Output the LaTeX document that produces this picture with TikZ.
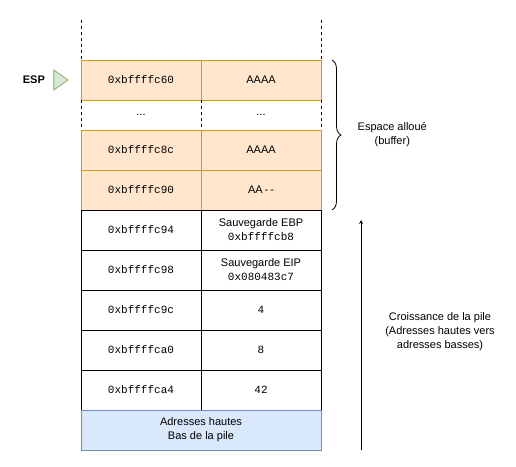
\documentclass[tikz,border=0pt]{standalone}
\usepackage{fontspec}
\setmainfont{Liberation Sans}
\setmonofont{Liberation Mono}
\usepackage{tikz}
\usetikzlibrary{shapes.geometric}
\usetikzlibrary{arrows, positioning, decorations.pathreplacing}

\definecolor{buffill}{HTML}{FFE6CC}
\definecolor{bufline}{HTML}{D79B00}
\definecolor{basfill}{HTML}{DAE8FC}
\definecolor{basline}{HTML}{6C8EBF}
\definecolor{espfill}{HTML}{D5E8D4}
\definecolor{espline}{HTML}{82B366}

\tikzset{
    cell/.style = {rectangle, draw, line width=0.8pt, minimum width=120pt, minimum height=40pt,
                   inner sep=0pt, outer sep=0pt, align=center, font=\fontsize{11}{14}\selectfont},
    buf/.style  = {cell, fill=buffill, draw=bufline},
    gap/.style  = {cell, draw=none, minimum height=30pt},
    sep/.style  = {dashed, line width=0.8pt}
}

\begin{document}
\begin{tikzpicture}[x=1pt, y=-1pt, >=stealth, node distance=0pt]
    \useasboundingbox (0,0) rectangle (516,466);
    % pile
    \node[buf]					(a0) at (141,80)			{\ttfamily 0xbffffc60};
    \node[buf]					(b0) [right=of a0]		{AAAA};
    \node[gap]					(a1) [below=of a0]		{...};
    \node[gap]					(b1) [right=of a1]		{...};
    \node[buf]					(a2) [below=of a1]		{\ttfamily 0xbffffc8c};
    \node[buf]					(b2) [right=of a2]		{AAAA};
    \node[buf]					(a3) [below=of a2]		{\ttfamily 0xbffffc90};
    \node[buf]					(b3) [right=of a3]		{AA\kern2pt-\kern2pt-};
    \node[cell]					(a4) [below=of a3]		{\ttfamily 0xbffffc94};
    \node[cell]					(b4) [right=of a4]		{Sauvegarde EBP\\\ttfamily 0xbffffcb8};
    \node[cell]					(a5) [below=of a4]		{\ttfamily 0xbffffc98};
    \node[cell]					(b5) [right=of a5]		{Sauvegarde EIP\\\ttfamily 0x080483c7};
    \node[cell]					(a6) [below=of a5]		{\ttfamily 0xbffffc9c};
    \node[cell]					(b6) [right=of a6]		{\ttfamily 4};
    \node[cell]					(a7) [below=of a6]		{\ttfamily 0xbffffca0};
    \node[cell]					(b7) [right=of a7]		{\ttfamily 8};
    \node[cell]					(a8) [below=of a7]		{\ttfamily 0xbffffca4};
    \node[cell]					(b8) [right=of a8]		{\ttfamily 42};
    \node[cell, minimum width=240pt, fill=basfill, draw=basline]
    							(bas) [below=of a8.south west, anchor=north west]	{Adresses hautes\\Bas de la pile};
    % pointillés
    \coordinate					(t0) at (81,20);
    \coordinate					(t1) at (321,20);
    \draw[sep]	(t0)	--	(a0.north west);
    \draw[sep]	(t1)	--	(b0.north east);
    \draw[sep]	(a1.north west)	--	(a1.south west);
    \draw[sep]	(a1.north east)	--	(a1.south east);
    \draw[sep]	(b1.north east)	--	(b1.south east);
    % ESP
    \node[isosceles triangle, fill=espfill, draw=espline, line width=0.8pt, minimum height=14pt,
          minimum width=20pt, isosceles triangle stretches, inner sep=0pt]
    							(esp) at (59,80)			{};
    \node[font=\bfseries\fontsize{11}{14}\selectfont]	(espl) [left=5pt of esp]	{ESP};
    % accolade
    \coordinate					(h) at (332,60);
    \coordinate					(l) at (332,210);
    \draw[decorate, decoration={brace, amplitude=9pt}, line width=0.8pt]	(h)	--	(l)
    	node[midway, right=22pt, align=center, font=\fontsize{11}{14}\selectfont]	(alloc)	{Espace alloué\\(buffer)};
    % croissance
    \coordinate					(c0) at (361,450);
    \coordinate					(c1) at (361,220);
    \draw[->, line width=0.8pt]	(c0)	--	(c1);
    \node[align=center, font=\fontsize{11}{14}\selectfont]	(crois) at (440,332)	{Croissance de la pile\\(Adresses hautes vers\\adresses basses)};
\end{tikzpicture}
\end{document}
